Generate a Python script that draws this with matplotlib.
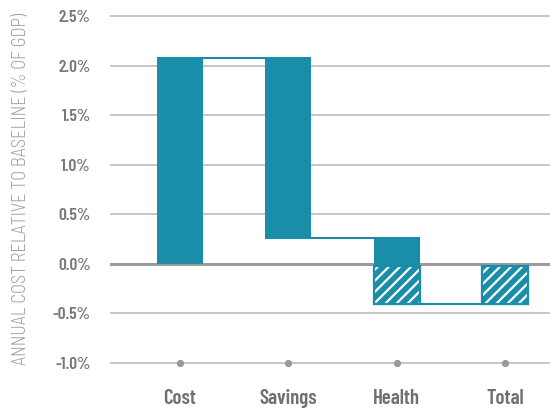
import matplotlib

matplotlib.use("Agg")
import matplotlib.pyplot as plt  # noqa: E402

# waterfall data (% of GDP)
categories = ["Cost", "Savings", "Health", "Total"]
solid_top = [2.08, 2.08, 0.26]
solid_bottom = [0.0, 0.26, -0.02]
hatch_cats = ["Health", "Total"]
hatch_top = [-0.02, -0.02]
hatch_bottom = [-0.40, -0.40]
connector_levels = [2.08, 0.26, -0.40]
yticks = [-1.0, -0.5, 0.0, 0.5, 1.0, 1.5, 2.0, 2.5]

TEAL = "#1a8ea8"
FONT = "Barlow Condensed"
plt.rcParams["hatch.linewidth"] = 1.6

fig = plt.figure(figsize=(5.5, 4.08), dpi=100)
ax = fig.add_axes([111 / 550, 45 / 408, 439 / 550, 347 / 408])
ax.set_xlim(-0.635, 3.414)
ax.set_ylim(-1.0, 2.5)

# gridlines, zero line a bit darker
for y in yticks:
    if y == 0.0:
        ax.axhline(y, color="#9c9c9c", lw=2.2, zorder=1, clip_on=False)
    else:
        ax.axhline(y, color="#c6c6c6", lw=1.4, zorder=1, clip_on=False)
x = list(range(len(categories)))
ax.plot(x, [yticks[0]] * len(x), "o", color="#9a9a9a", ms=4.2, zorder=2, clip_on=False)

width = 0.423
pos = {c: i for i, c in enumerate(categories)}

# connectors between bars
for i, lvl in enumerate(connector_levels):
    ax.plot([i - width / 2, i + 1 + width / 2], [lvl, lvl], color=TEAL, lw=1.5,
            zorder=2, solid_capstyle="butt")

# solid bars
ax.bar(x[:len(solid_top)], [t - b for t, b in zip(solid_top, solid_bottom)],
       bottom=solid_bottom, width=width, color=TEAL, lw=0, zorder=3)

# hatched bars: white hatch on teal, then a teal outline on top
hx = [pos[c] for c in hatch_cats]
hh = [t - b for t, b in zip(hatch_top, hatch_bottom)]
ax.bar(hx, hh, bottom=hatch_bottom, width=width, color=TEAL, edgecolor="white",
       hatch="///", lw=0, zorder=3)
ax.bar(hx, hh, bottom=hatch_bottom, width=width, fill=False, edgecolor=TEAL,
       lw=1.6, zorder=4)

for s in ax.spines.values():
    s.set_visible(False)
ax.set_yticks(yticks)
ax.set_yticklabels([f"{v:.1f}%" for v in yticks])
ax.set_xticks(x)
ax.set_xticklabels(categories)
ax.tick_params(length=0)
ax.tick_params(axis="y", pad=14.5, labelcolor="#77777d")
ax.tick_params(axis="x", pad=18.5, labelcolor="#6f6f75")
for lab in ax.get_yticklabels():
    lab.set_fontfamily(FONT)
    lab.set_fontweight(600)
    lab.set_fontsize(12.5)
for lab in ax.get_xticklabels():
    lab.set_fontfamily(FONT)
    lab.set_fontweight(600)
    lab.set_fontsize(15)

fig.text(21.5 / 550, 1 - 189 / 408, "ANNUAL COST RELATIVE TO BASELINE (% OF GDP)",
         rotation=90, ha="center", va="center", family="Barlow Semi Condensed",
         weight=300, fontsize=13.3, color="#a2a2a7")

fig.savefig("out.png", dpi=100)
